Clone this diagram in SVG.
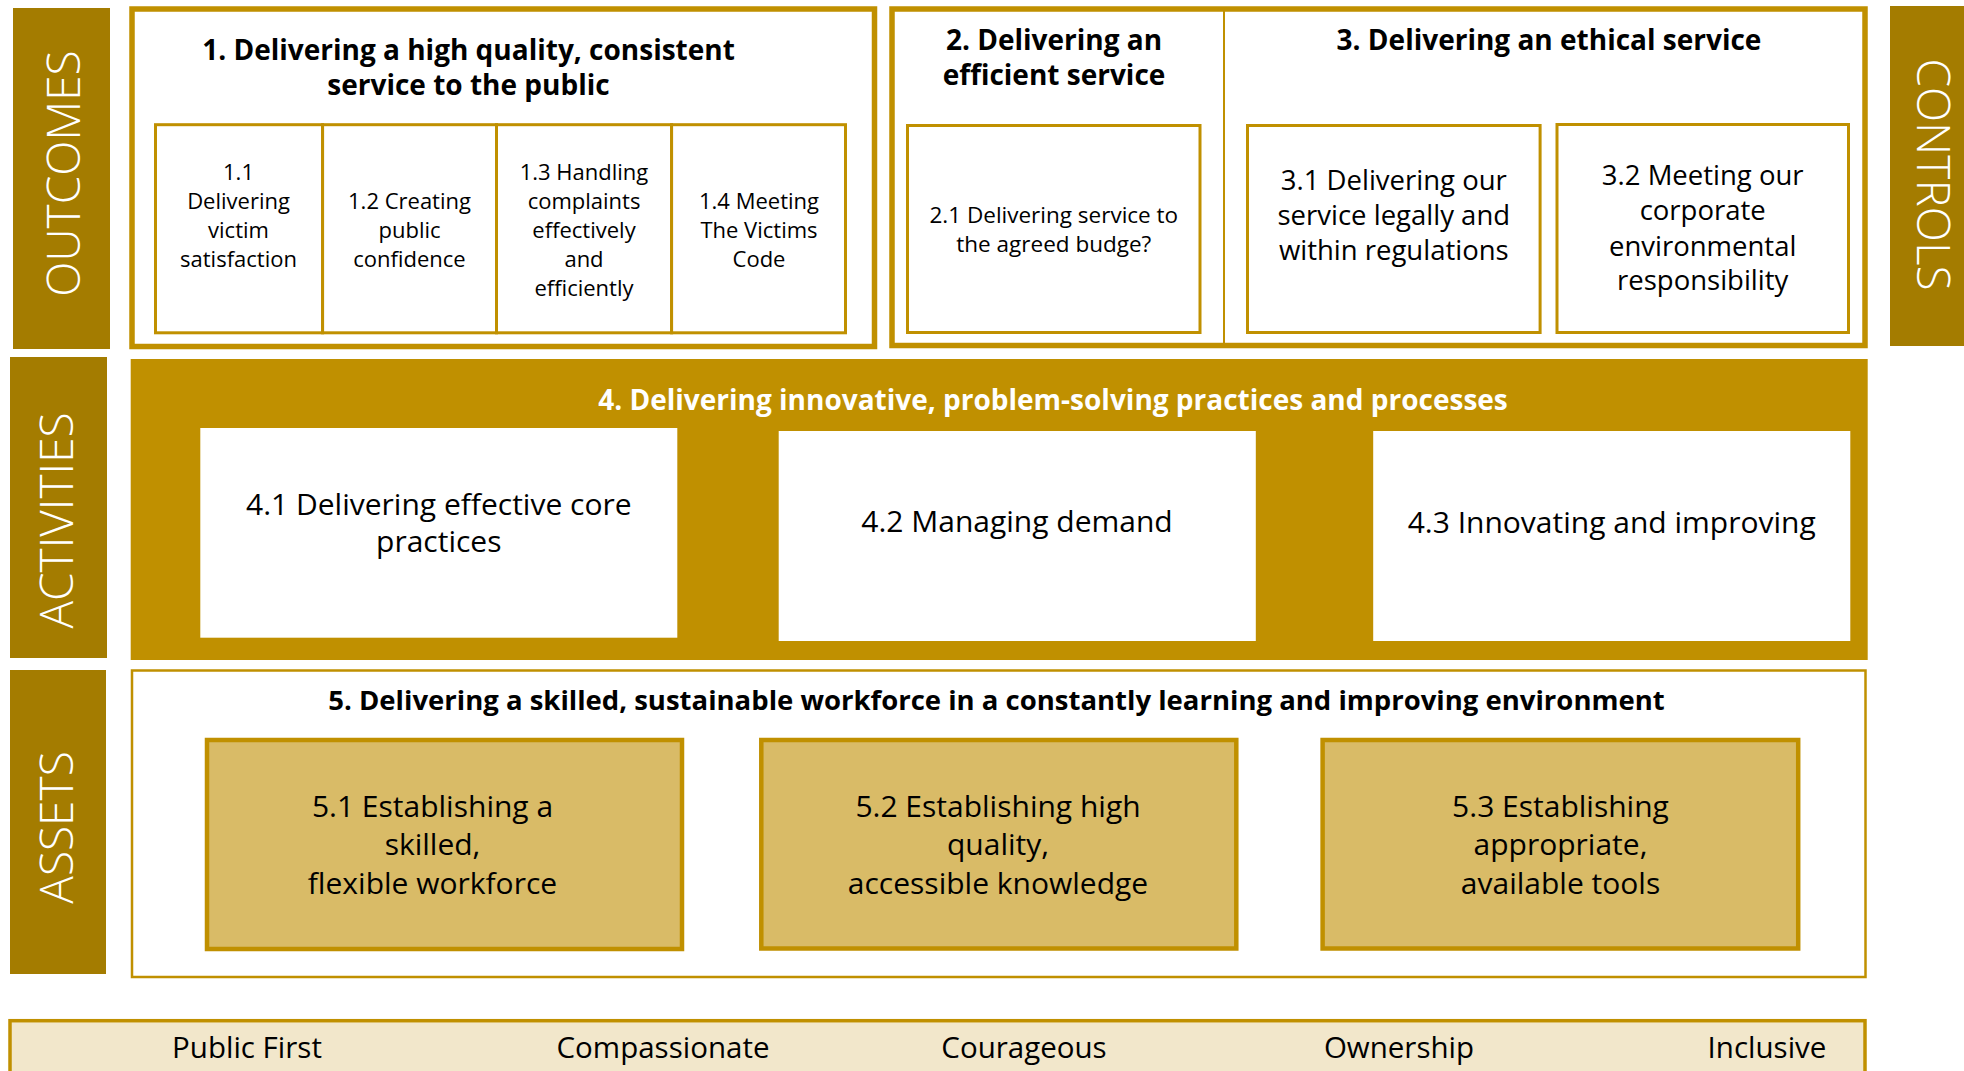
<svg xmlns="http://www.w3.org/2000/svg" width="1964" height="1071" viewBox="0 0 1964 1071">
  <style>
    .band { fill: #A47C00; }
    .band-label { font-family: "Open Sans", "Noto Sans", sans-serif; font-weight: 300; font-size: 46px; fill: #FFFFFF; text-anchor: middle; }
    .frame { fill: #FFFFFF; stroke: #C09000; stroke-width: 5.5; }
    .cell { fill: #FFFFFF; stroke: #C09000; stroke-width: 3; }
    .title { font-family: "Open Sans", "Noto Sans", sans-serif; font-weight: 700; font-size: 28px; fill: #000000; text-anchor: middle; }
    .title-light { fill: #FFFFFF; }
    .t22 { font-family: "Open Sans", "Noto Sans", sans-serif; font-size: 22px; fill: #000000; text-anchor: middle; }
    .t27 { font-family: "Open Sans", "Noto Sans", sans-serif; font-size: 27.5px; fill: #000000; text-anchor: middle; }
    .t30 { font-family: "Open Sans", "Noto Sans", sans-serif; font-size: 30px; fill: #000000; text-anchor: middle; }
    .activity { fill: #FFFFFF; }
    .asset { fill: #D9BB67; stroke: #C09000; stroke-width: 4.5; }
    .value { font-family: "Open Sans", "Noto Sans", sans-serif; font-size: 29.5px; fill: #000000; text-anchor: middle; }
  </style>

  <!-- side bands -->
  <g id="band-outcomes">
    <rect class="band" x="13" y="8" width="97" height="341"/>
    <text class="band-label" transform="translate(80,173.5) rotate(-90)">OUTCOMES</text>
  </g>
  <g id="band-activities">
    <rect class="band" x="10" y="357" width="97" height="301"/>
    <text class="band-label" transform="translate(73,520.5) rotate(-90)">ACTIVITIES</text>
  </g>
  <g id="band-assets">
    <rect class="band" x="10" y="670" width="96" height="304"/>
    <text class="band-label" transform="translate(73,827.5) rotate(-90)">ASSETS</text>
  </g>
  <g id="band-controls">
    <rect class="band" x="1890" y="6" width="80" height="340"/>
    <text class="band-label" transform="translate(1917,174.5) rotate(90)">CONTROLS</text>
  </g>

  <!-- 1. quality of service -->
  <g id="outcome-1">
    <rect class="frame" x="132" y="9" width="742.5" height="337.5"/>
    <text class="title" x="468.5" y="60">1. Delivering a high quality, consistent</text>
    <text class="title" x="468.5" y="94.5">service to the public</text>
  </g>
  <g id="outcome-1-1">
    <rect class="cell" x="155.5" y="124.7" width="167.1" height="208.1"/>
    <text class="t22" x="238.5"><tspan x="238.5" y="180">1.1</tspan><tspan x="238.5" y="209">Delivering</tspan><tspan x="238.5" y="238">victim</tspan><tspan x="238.5" y="267">satisfaction</tspan></text>
  </g>
  <g id="outcome-1-2">
    <rect class="cell" x="322.6" y="124.7" width="173.9" height="208.1"/>
    <text class="t22"><tspan x="409.5" y="209">1.2 Creating</tspan><tspan x="409.5" y="238">public</tspan><tspan x="409.5" y="267">confidence</tspan></text>
  </g>
  <g id="outcome-1-3">
    <rect class="cell" x="496.5" y="124.7" width="175.1" height="208.1"/>
    <text class="t22"><tspan x="584" y="180">1.3 Handling</tspan><tspan x="584" y="209">complaints</tspan><tspan x="584" y="238">effectively</tspan><tspan x="584" y="267">and</tspan><tspan x="584" y="296">efficiently</tspan></text>
  </g>
  <g id="outcome-1-4">
    <rect class="cell" x="671.6" y="124.7" width="173.9" height="208.1"/>
    <text class="t22"><tspan x="759" y="209">1.4 Meeting</tspan><tspan x="759" y="238">The Victims</tspan><tspan x="759" y="267">Code</tspan></text>
  </g>

  <!-- 2. efficiency and 3. ethics share one frame -->
  <g id="outcome-2-3-frame">
    <rect class="frame" x="892" y="9" width="973" height="336.5"/>
    <line x1="1224" y1="9" x2="1224" y2="345.5" stroke="#C09000" stroke-width="2"/>
  </g>
  <g id="outcome-2">
    <text class="title" x="1054" y="49.5">2. Delivering an</text>
    <text class="title" x="1054" y="84.5">efficient service</text>
  </g>
  <g id="outcome-2-1">
    <rect class="cell" x="907.5" y="125.5" width="292.5" height="207"/>
    <text class="t22" style="font-size:22.5px"><tspan x="1053.8" y="223">2.1 Delivering service to</tspan><tspan x="1053.8" y="252">the agreed budge?</tspan></text>
  </g>
  <g id="outcome-3">
    <text class="title" x="1549" y="50">3. Delivering an ethical service</text>
  </g>
  <g id="outcome-3-1">
    <rect class="cell" x="1247.5" y="125.5" width="292.6" height="207"/>
    <text class="t27"><tspan x="1393.8" y="190">3.1 Delivering our</tspan><tspan x="1393.8" y="225">service legally and</tspan><tspan x="1393.8" y="260">within regulations</tspan></text>
  </g>
  <g id="outcome-3-2">
    <rect class="cell" x="1557" y="124.5" width="291.5" height="208"/>
    <text class="t27"><tspan x="1702.7" y="185">3.2 Meeting our</tspan><tspan x="1702.7" y="220">corporate</tspan><tspan x="1702.7" y="255.5">environmental</tspan><tspan x="1702.7" y="290">responsibility</tspan></text>
  </g>

  <!-- 4. activities -->
  <g id="activity-4">
    <rect x="130.7" y="359" width="1737" height="301" fill="#C09000"/>
    <text class="title title-light" x="1053" y="410">4. Delivering innovative, problem-solving practices and processes</text>
  </g>
  <g id="activity-4-1">
    <rect class="activity" x="200.3" y="428" width="477" height="209.7"/>
    <text class="t30"><tspan x="438.8" y="515">4.1 Delivering effective core</tspan><tspan x="438.8" y="552">practices</tspan></text>
  </g>
  <g id="activity-4-2">
    <rect class="activity" x="778.7" y="431" width="477.1" height="210"/>
    <text class="t30" x="1017" y="532">4.2 Managing demand</text>
  </g>
  <g id="activity-4-3">
    <rect class="activity" x="1373.2" y="431" width="477.1" height="210"/>
    <text class="t30" x="1611.7" y="533">4.3 Innovating and improving</text>
  </g>

  <!-- 5. assets -->
  <g id="asset-5">
    <rect x="132" y="670.5" width="1733.5" height="306.5" fill="#FFFFFF" stroke="#C09000" stroke-width="2.5"/>
    <text class="title" style="font-size:27.5px" x="996.5" y="710">5. Delivering a skilled, sustainable workforce in a constantly learning and improving environment</text>
  </g>
  <g id="asset-5-1">
    <rect class="asset" x="207" y="740" width="475" height="209"/>
    <text class="t30"><tspan x="432.5" y="817">5.1 Establishing a</tspan><tspan x="432.5" y="855">skilled,</tspan><tspan x="432.5" y="893.5">flexible workforce</tspan></text>
  </g>
  <g id="asset-5-2">
    <rect class="asset" x="761.3" y="740" width="475" height="208.5"/>
    <text class="t30"><tspan x="998" y="817">5.2 Establishing high</tspan><tspan x="998" y="855">quality,</tspan><tspan x="998" y="893.5">accessible knowledge</tspan></text>
  </g>
  <g id="asset-5-3">
    <rect class="asset" x="1322.6" y="740" width="475.6" height="208.5"/>
    <text class="t30"><tspan x="1560.5" y="817">5.3 Establishing</tspan><tspan x="1560.5" y="855">appropriate,</tspan><tspan x="1560.5" y="893.5">available tools</tspan></text>
  </g>

  <!-- values strip -->
  <g id="values">
    <rect x="10" y="1020.7" width="1855" height="70" fill="#F2E7CB" stroke="#C09000" stroke-width="3.5"/>
    <text class="value" x="247" y="1058">Public First</text>
    <text class="value" x="663" y="1058">Compassionate</text>
    <text class="value" x="1024" y="1058">Courageous</text>
    <text class="value" x="1399" y="1058">Ownership</text>
    <text class="value" x="1767" y="1058">Inclusive</text>
  </g>

  <!-- no connectors in this layout -->
  <g id="connectors"/>
</svg>
